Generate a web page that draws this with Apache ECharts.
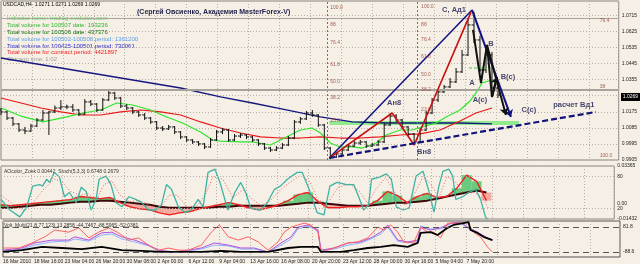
<!DOCTYPE html>
<html><head><meta charset="utf-8">
<script src="https://cdn.jsdelivr.net/npm/echarts/dist/echarts.min.js"></script>
<style>html,body{margin:0;padding:0;background:#f6efe5;}#c{width:640px;height:264px;}</style>
</head><body><div id="c"></div><script>
// ---------- DATA ----------
const dateLabels = ['16 Mar 2010','18 Mar 16:00','23 Mar 04:00','26 Mar 20:00','30 Mar 08:00','2 Apr 00:00','6 Apr 12:00','9 Apr 04:00','13 Apr 16:00','16 Apr 08:00','20 Apr 20:00','23 Apr 12:00','28 Apr 00:00','30 Apr 16:00','5 May 04:00','7 May 20:00'];
const priceTicks = [0.9905,0.9995,1.0085,1.0175,1.0265,1.0355,1.0445,1.0535,1.0625,1.0715];
// [bar, open, close, low, high]
const priceBars = [
[0,1.0185,1.0174,1.0157,1.0196],[3,1.0174,1.0140,1.0129,1.0180],[6,1.0140,1.0107,1.0095,1.0146],[9,1.0107,1.0073,1.0062,1.0112],
[12,1.0073,1.0067,1.0050,1.0090],[15,1.0067,1.0095,1.0062,1.0107],[18,1.0095,1.0129,1.0090,1.0140],[21,1.0129,1.0168,1.0123,1.0185],
[24,1.0168,1.0174,1.0045,1.0180],[27,1.0174,1.0196,1.0168,1.0210],[30,1.0196,1.0202,1.0185,1.0240],[33,1.0202,1.0202,1.0190,1.0215],
[36,1.0202,1.0185,1.0174,1.0218],[39,1.0185,1.0162,1.0151,1.0190],[42,1.0162,1.0230,1.0157,1.0246],[45,1.0230,1.0218,1.0207,1.0241],
[48,1.0218,1.0185,1.0174,1.0224],[51,1.0185,1.0241,1.0180,1.0252],[54,1.0241,1.0280,1.0235,1.0297],[57,1.0280,1.0252,1.0241,1.0286],
[60,1.0252,1.0207,1.0196,1.0258],[63,1.0207,1.0196,1.0185,1.0218],[66,1.0196,1.0174,1.0162,1.0202],[69,1.0174,1.0157,1.0146,1.0180],
[72,1.0157,1.0140,1.0129,1.0168],[75,1.0140,1.0118,1.0107,1.0146],[78,1.0118,1.0084,1.0073,1.0123],[81,1.0084,1.0079,1.0067,1.0095],
[84,1.0079,1.0090,1.0073,1.0101],[87,1.0090,1.0062,1.0050,1.0095],[90,1.0062,1.0034,1.0022,1.0067],[93,1.0034,1.0017,1.0006,1.0039],
[96,1.0017,1.0006,0.9995,1.0022],[99,1.0006,0.9995,0.9983,1.0011],[102,0.9995,0.9978,0.9966,1.0000],[105,0.9978,1.0017,0.9972,1.0028],
[108,1.0017,1.0062,1.0011,1.0073],[111,1.0062,1.0073,1.0050,1.0084],[114,1.0073,1.0017,1.0006,1.0079],[117,1.0017,1.0039,1.0011,1.0050],
[120,1.0039,1.0045,1.0028,1.0056],[123,1.0045,1.0034,1.0022,1.0050],[126,1.0034,1.0017,1.0006,1.0039],[129,1.0017,0.9995,0.9983,1.0022],
[132,0.9995,0.9972,0.9961,1.0000],[135,0.9972,0.9961,0.9950,0.9978],[138,0.9961,0.9972,0.9955,0.9983],[141,0.9972,0.9989,0.9966,1.0000],
[144,0.9989,1.0028,0.9983,1.0039],[147,1.0028,1.0118,1.0022,1.0129],[150,1.0118,1.0135,1.0107,1.0146],[153,1.0135,1.0168,1.0129,1.0180],
[156,1.0168,1.0157,1.0146,1.0185],[159,1.0157,1.0101,1.0090,1.0162],[162,1.0101,0.9972,0.9961,1.0107],[165,0.9972,0.9922,0.9910,0.9978],
[168,0.9922,0.9939,0.9916,0.9950],[171,0.9939,0.9961,0.9933,0.9972],[174,0.9961,0.9983,0.9955,0.9995],[177,0.9983,1.0000,0.9978,1.0011],
[180,1.0000,1.0006,0.9989,1.0017],[183,1.0006,0.9983,0.9972,1.0011],[186,0.9983,0.9989,0.9978,1.0000],[189,0.9989,1.0006,0.9983,1.0017],
[192,1.0006,1.0101,1.0000,1.0112],[195,1.0101,1.0151,1.0095,1.0168],[198,1.0151,1.0129,1.0118,1.0162],[201,1.0129,1.0090,1.0079,1.0135],
[204,1.0090,1.0051,1.0039,1.0095],[207,1.0051,1.0006,0.9995,1.0056],[210,1.0006,1.0073,1.0000,1.0084],[213,1.0073,1.0168,1.0067,1.0180],
[216,1.0168,1.0241,1.0162,1.0252],[219,1.0241,1.0286,1.0230,1.0297],[222,1.0286,1.0314,1.0280,1.0325],[225,1.0314,1.0342,1.0308,1.0364],
[228,1.0342,1.0398,1.0336,1.0420],[231,1.0398,1.0493,1.0392,1.0521],[234,1.0493,1.0661,1.0487,1.0700],[237,1.0661,1.0577,1.0560,1.0733],
[240,1.0577,1.0409,1.0398,1.0600],[243,1.0409,1.0493,1.0392,1.0520],[246,1.0493,1.0308,1.0297,1.0510],[249,1.0308,1.0269,1.0252,1.0340]
];
const maFast = [[0,1.0196],[10,1.0151],[21,1.0118],[33,1.0146],[41,1.0168],[50,1.0185],[58,1.0224],[66,1.0213],[75,1.0185],[83,1.0146],[91,1.0112],[100,1.0062],[106,1.0017],[110,1.0011],[120,1.0006],[126,1.0006],[135,0.9989],[143,1.0034],[150,1.0073],[156,1.0084],[160,1.0056],[165,1.0000],[170,0.9978],[176,0.9978],[181,0.9972],[188,1.0000],[193,1.0045],[200,1.0073],[206,1.0073],[211,1.0090],[218,1.0112],[223,1.0146],[230,1.0185],[235,1.0235],[239,1.0297],[241,1.0336],[246,1.0353],[249,1.0342]];
const maMid = [[0,1.0252],[10,1.0224],[20,1.0196],[30,1.0174],[40,1.0157],[50,1.0157],[60,1.0174],[70,1.0185],[80,1.0174],[90,1.0157],[100,1.0118],[110,1.0084],[120,1.0056],[130,1.0034],[140,1.0028],[150,1.0028],[160,1.0034],[170,1.0028],[180,1.0028],[190,1.0034],[200,1.0045],[210,1.0051],[220,1.0073],[230,1.0123],[238,1.0168],[246,1.0196]];
const maSlow = [[0,1.0476],[30,1.0420],[60,1.0364],[90,1.0308],[110,1.0258],[126,1.0224],[143,1.0185],[160,1.0146],[176,1.0118],[193,1.0112],[210,1.0112],[230,1.0112],[246,1.0107]];
const navyLine = [[164.5,0.9916],[236,1.0745]];
const redZigzag = [[164.5,0.9916],[196,1.0168],[207,0.9989],[235.5,1.0733]];
const navyDashed = [[164.5,0.9916],[298,1.0174]];
const navyArrow = [[236,1.0745],[255.5,1.0146]];
const blackWave = [[236.5,1.0633],[240.5,1.0336],[243.5,1.0549],[246,1.0258],[248.5,1.0370]];
const blackArrow = [[243.5,1.0549],[253,1.0157]];
const greenBand = [[164.5,1.0112],[259.5,1.0112]];
const greenDash = [[234.5,1.0420],[245.5,1.0420]];
const levelLines = [1.0666, 1.0297];
const fibVerticals = [163.5, 208.5];
const annTexts = ['C, Ад1','B','B(c)','A','A(c)','C(c)','расчет Вд1','Ан8','Вн8'];
const annPos = [[227,1.0745],[245.5,1.0554],[254,1.0370],[236,1.0336],[240,1.0241],[264.5,1.0185],[287,1.0213],[197,1.0224],[212,0.9950]];
const fibLevels1 = ['100.0','88','76.4','61.8','50.0','38.2','23.6'];
const fibPrices1 = [1.0756,1.0661,1.0560,1.0437,1.0342,1.0252,1.0123];
const fibLevels2 = ['100.0','88','76.4','61.8','50.0','38.2','23.6'];
const fibPrices2 = [1.0761,1.0661,1.0577,1.0481,1.0381,1.0297,1.0185];
const sideLevels = ['76.4','38','100.0'];
const sidePrices = [1.0683,1.0314,0.9927];
const lastPrice = 1.0269;
// oscillator panel
const stochK = [[0,37],[4.5,17],[9.5,4],[13,23],[16,62],[19.5,65],[21,62],[23,75],[24.5,69],[27,88],[29.5,79],[32,42],[34.5,50],[38,31],[40.5,60],[43,52],[45.5,17],[48,37],[49.5,75],[53,81],[55.5,65],[58,31],[61,23],[64.5,42],[68,37],[71,31],[74.5,17],[78,17],[81,27],[83.5,65],[86,56],[89.5,23],[93,12],[96,17],[99.5,37],[102,23],[104.5,88],[108,94],[110.5,69],[114.5,17],[118,50],[121,69],[123.5,50],[126,21],[131,17],[134.5,31],[138,56],[141,62],[144.5,75],[149.5,88],[152,88],[155.5,56],[158.5,23],[159.5,12],[163,8],[166,62],[169.5,69],[174.5,65],[178,65],[180.5,42],[183,17],[185.5,27],[187,75],[191,79],[194.5,85],[197,75],[199.5,23],[203,17],[206,21],[209.5,81],[213,90],[216,52],[218.5,13],[221,62],[223,90],[226,94],[228,81],[229.5,37],[233,42],[236,50],[239.5,56],[242,37],[244.5,4],[245.5,0]];
const stochD = [[0,45],[6,28],[12,15],[17,35],[22,58],[27,75],[31,70],[35,52],[40,45],[44,48],[48,35],[52,65],[56,72],[60,45],[65,33],[70,35],[75,25],[80,20],[85,45],[89,45],[94,22],[99,25],[103,45],[107,80],[112,75],[117,40],[122,55],[126,40],[131,25],[136,35],[141,55],[146,70],[151,82],[156,70],[160,35],[165,30],[170,60],[176,66],[181,52],[185,30],[189,55],[194,78],[199,50],[204,25],[209,50],[213,80],[217,65],[221,40],[225,80],[229,72],[234,48],[239,50],[243,40],[246,20]];
const aoBarsX = [0,5,10,15,20,25,30,35,40,45,50,55,60,65,70,75,80,85,90,95,100,105,110,115,120,125,130,135,140,145,150,155,160,165,170,175,180,185,190,195,200,205,210,215,220,225,230,235,240,245];
const aoValues = [-0.0014,-0.0023,-0.0014,-0.0005,0.0005,0.0014,0.0023,0.0032,0.0060,0.0051,0.0041,0.0051,0.0005,-0.0032,-0.0051,-0.0060,-0.0088,-0.0106,-0.0088,-0.0078,-0.0051,-0.0032,-0.0014,0.0005,-0.0014,-0.0041,-0.0060,-0.0041,-0.0014,0.0023,0.0078,0.0097,0.0014,-0.0041,-0.0041,-0.0032,-0.0032,-0.0023,0.0023,0.0106,0.0069,0.0005,0.0060,0.0088,0.0051,0.0060,0.0134,0.0254,0.0198,0.0023];
const aoSignal = [-0.0041,-0.0041,-0.0032,-0.0023,-0.0014,-0.0014,-0.0005,0.0005,0.0014,0.0014,0.0023,0.0023,0.0014,0.0005,-0.0005,-0.0014,-0.0032,-0.0041,-0.0041,-0.0041,-0.0041,-0.0041,-0.0032,-0.0032,-0.0023,-0.0023,-0.0023,-0.0023,-0.0023,-0.0014,-0.0005,0.0005,0.0005,-0.0005,-0.0014,-0.0023,-0.0023,-0.0023,-0.0014,-0.0005,0.0005,0.0005,0.0014,0.0023,0.0041,0.0060,0.0078,0.0097,0.0115,0.0097];
const aoMin = -0.01432, aoMax = 0.03365;
// volume panel
const volPink = [[0,25],[8,25],[14.5,39],[21,56],[26,75],[33,69],[38,81],[43,53],[48,69],[53,81],[58,67],[63,47],[68,53],[73,33],[78,19],[83,25],[88,19],[93,19],[99.5,33],[104.5,69],[108.5,89],[113,56],[118,47],[123,56],[128,42],[133,19],[138,42],[141,69],[144.5,83],[148,89],[151,94],[154.5,89],[158,69],[159.5,14],[166,25],[173,39],[178,42],[183,53],[188,83],[191,75],[194.5,89],[198,69],[201,42],[206,39],[209.5,83],[213,69],[216,69],[219.5,53],[223,94],[226,94],[229.5,94],[233,97],[236,69],[239.5,56],[243,28],[245.5,14]];
const volViolet = [[0,19],[9.5,25],[16,39],[24.5,47],[33,47],[36,56],[43,47],[49.5,67],[54.5,69],[59.5,56],[66,47],[73,33],[78,19],[86,14],[93,19],[99.5,25],[106,39],[113,33],[119.5,25],[126,25],[133,14],[139.5,39],[144.5,56],[148,83],[153,89],[158,75],[159.5,19],[166,25],[173,39],[179.5,42],[184.5,53],[189.5,69],[193,89],[198,47],[203,42],[208,47],[209.5,83],[214.5,75],[219.5,81],[224.5,94],[229.5,97],[233,83],[238,69],[243,53],[245.5,47]];
const volBlue = [[0,17],[9.5,22],[16,33],[24.5,42],[33,44],[36,50],[43,44],[49.5,61],[54.5,64],[59.5,50],[66,42],[73,31],[78,17],[86,14],[93,17],[99.5,22],[106,33],[113,31],[119.5,22],[126,22],[133,14],[139.5,33],[144.5,50],[148,78],[153,86],[158,72],[159.5,17],[166,22],[173,33],[179.5,39],[184.5,50],[189.5,64],[193,83],[198,44],[203,39],[208,44],[209.5,86],[214.5,78],[219.5,78],[224.5,92],[229.5,94],[233,81],[238,67],[243,53],[245.5,47]];
const volBlack = [[0,14],[9.5,19],[19.5,28],[29.5,25],[39.5,22],[49.5,28],[59.5,19],[69.5,17],[79.5,14],[89.5,14],[99.5,14],[109.5,17],[119.5,14],[133,14],[143,25],[149.5,28],[158,28],[159.5,14],[169.5,14],[176,19],[183,25],[189.5,28],[196,33],[203,28],[208,39],[209.5,67],[214.5,69],[218,61],[223,81],[226,89],[231,94],[233.5,97],[234.5,75],[238,67],[241,56],[245.5,47]];
const volLevels = [83, 14];
const volLevelLabels = ['81.8', '-88.6'];
const infoLines = ['USDCAD,H4  1.0271 1.0271 1.0269 1.0269','Indicator home: trading-evolution.com','Total volume for 100507 date: 193236','Total volume for 100506 date: 437376','Total volume for 100502-100508 period: 1361200','Total volume for 100425-100501 period: 730061','Total volume for contract period: 4421897','Chicago time: 1:02'];
const titleText = '(Сергей Овсиенко, Академия MasterForex-V)';
const osc1Title = 'AOcolor_Zoek 0.00442  Stoch(5,3,3) 0.6748 0.2679';
const osc2Title = 'Volt_Multi(21,8,77,123) 13.2858 -44.7467 -88.5965 -52.0381';

// ---------- STYLE / LAYOUT ----------
const BG = '#f6efe5', GRIDC = '#b9b1a7', FONT = '"Liberation Sans", Arial, sans-serif';
const xMax = 309.5, perLabel = 15.5;
const infoColors = ['#000','#5fcf5f','#2fb52f','#0a6a0a','#5aa0e8','#2a2ac8','#ee2222','#9a9a9a'];

const chart = echarts.init(document.getElementById('c'), null, {renderer:'canvas'});
const xAxisBase = (i) => ({
  type:'value', gridIndex:i, min:0, max:xMax, interval:perLabel,
  axisLine:{show:false}, axisTick:{show:false},
  splitLine:{show:true, lineStyle:{color:GRIDC, type:[1,2], width:1}},
  axisLabel: i===2 ? {show:true, fontSize:5, color:'#222', fontFamily:FONT, align:'left', margin:2, showMaxLabel:false,
     formatter:(v)=>{const k=Math.round(v/perLabel); return (Math.abs(v-k*perLabel)<1e-6 && k<dateLabels.length)?dateLabels[k]:'';}} : {show:false}
});
const lineS = (data, color, width, extra) => Object.assign({type:'line', xAxisIndex:0, yAxisIndex:0, data, showSymbol:false, symbol:'none',
  lineStyle:{color, width}, silent:true, z:3}, extra||{});
const ann = annTexts.map((t,i)=>({name:t, value:annPos[i]}));
const fib1 = fibLevels1.map((t,i)=>({name:t, value:[164.5, fibPrices1[i]]}));
const fib2 = fibLevels2.map((t,i)=>({name:t, value:[210, fibPrices2[i]]}));
const side = sideLevels.map((t,i)=>({name:t, value:[299.5, sidePrices[i]]}));
const aoData = aoBarsX.map((x,i)=>[x, aoValues[i], aoSignal[i]]);

const option = {
  backgroundColor: BG, animation:false,
  grid:[
    {left:1, top:1, width:619, height:159, show:true, borderColor:'#8a8580', borderWidth:1},
    {left:1, top:166, width:619, height:53, show:true, borderColor:'#8a8580', borderWidth:1},
    {left:1, top:221, width:619, height:36, show:true, borderColor:'#555', borderWidth:1}
  ],
  xAxis:[xAxisBase(0), xAxisBase(1), xAxisBase(2)],
  yAxis:[
    {type:'value', gridIndex:0, position:'right', min:priceTicks[0], max:1.0795, interval:0.009, axisLine:{show:false}, axisTick:{show:false},
     splitLine:{show:true, lineStyle:{color:GRIDC, type:[1,2]}},
     axisLabel:{fontSize:5, color:'#222', fontFamily:FONT, margin:3, showMaxLabel:false,
       formatter:(v)=>{const s=v.toFixed(4); return (priceTicks.map(p=>p.toFixed(4)).includes(s) && s!=='1.0265')?s:'';}}},
    {type:'value', gridIndex:1, position:'right', min:aoMin, max:aoMax, interval:-aoMin, axisLine:{show:false}, axisTick:{show:false}, splitLine:{show:false},
     axisLabel:{fontSize:5, color:'#222', fontFamily:FONT, margin:3,
       formatter:(v)=>{ if(Math.abs(v-aoMin)<1e-7) return '-0.01432'; if(Math.abs(v)<1e-7) return '0.00'; if(Math.abs(v-aoMax)<1e-7) return '0.03365'; return '';}}},
    {type:'value', gridIndex:1, position:'right', min:0, max:100, interval:20, axisLine:{show:false}, axisTick:{show:false}, splitLine:{show:false},
     axisLabel:{fontSize:5, color:'#222', fontFamily:FONT, margin:3, showMinLabel:false, showMaxLabel:false,
       formatter:(v)=> (v===80||v===20)?String(v):''}},
    {type:'value', gridIndex:2, position:'right', min:0, max:100, axisLine:{show:false}, axisTick:{show:false}, splitLine:{show:false}, axisLabel:{show:false}}
  ],
  graphic:[
    ...infoLines.map((t,i)=>({type:'text', left: i===0?3:7, top: i===0?2:9+i*6.8, silent:true,
        style:{text:t, fill:infoColors[i], font:(i===0?'5px ':'6px ')+FONT}})),
    {type:'text', left:137, top:9, silent:true, style:{text:titleText, fill:'#1e1e4a', font:'bold 7px '+FONT, textShadowColor:'#bbb', textShadowOffsetX:1, textShadowOffsetY:1}},
    {type:'text', left:4, top:169, silent:true, style:{text:osc1Title, fill:'#333', font:'5px '+FONT}},
    {type:'text', left:4, top:223, silent:true, style:{text:osc2Title, fill:'#333', font:'5px '+FONT}},
    {type:'rect', right:0, top:93, shape:{width:19, height:8}, style:{fill:'#000'}, silent:true, z:50},
    {type:'text', right:2, top:94.5, silent:true, z:51, style:{text:lastPrice.toFixed(4), fill:'#fff', font:'5px '+FONT}}
  ],
  series:[
    {type:'line', xAxisIndex:0, yAxisIndex:0, data:[], silent:true,
     markLine:{silent:true, symbol:['none','none'], animation:false, label:{show:false},
       data:[
         {xAxis:fibVerticals[0], lineStyle:{color:'#e04040', type:[2,2], width:1}},
         {xAxis:fibVerticals[1], lineStyle:{color:'#e04040', type:[2,2], width:1}},
         {yAxis:levelLines[0], lineStyle:{color:'#a8a39d', type:'solid', width:1}},
         {yAxis:levelLines[1], lineStyle:{color:'#a8a39d', type:'solid', width:2}}
       ]}},
    lineS(greenBand, 'rgba(110,235,110,0.75)', 4, {z:2}),
    {type:'custom', xAxisIndex:0, yAxisIndex:0, data:priceBars, encode:{x:0, y:[1,2,3,4]}, z:4, silent:true,
     renderItem:(params, api)=>{
       const x=api.value(0), o=api.value(1), c=api.value(2), l=api.value(3), h=api.value(4);
       const pL=api.coord([x,l]), pH=api.coord([x,h]), pO=api.coord([x,o]), pC=api.coord([x,c]);
       const st={stroke:'#111', lineWidth:1};
       return {type:'group', children:[
         {type:'line', shape:{x1:pL[0],y1:pL[1],x2:pH[0],y2:pH[1]}, style:st},
         {type:'line', shape:{x1:pO[0]-2.5,y1:pO[1],x2:pO[0],y2:pO[1]}, style:st},
         {type:'line', shape:{x1:pC[0],y1:pC[1],x2:pC[0]+2.5,y2:pC[1]}, style:st}]};
     }},
    lineS(maSlow, '#16167e', 1.3),
    lineS(maMid, '#e81818', 1.2),
    lineS(maFast, '#2ee62e', 1.2),
    lineS(navyLine, '#111180', 1.5, {z:5}),
    lineS(redZigzag, '#c81010', 1.6, {z:5}),
    lineS(navyDashed, '#12127a', 2.2, {z:5, lineStyle:{color:'#12127a', width:2.2, type:[6,3]}}),
    lineS(greenDash, '#3ccc3c', 1, {z:5, lineStyle:{color:'#3ccc3c', width:1, type:[3,2]}}),
    lineS(blackWave, '#111', 2, {z:6}),
    {type:'line', xAxisIndex:0, yAxisIndex:0, data:[], silent:true,
     markLine:{silent:true, animation:false, symbol:['none','arrow'], symbolSize:7, label:{show:false},
       data:[
         [{coord:navyArrow[0], lineStyle:{color:'#111180', width:2, type:'solid'}},{coord:navyArrow[1]}],
         [{coord:blackArrow[0], lineStyle:{color:'#111', width:2, type:'solid'}},{coord:blackArrow[1]}],
         [{coord:blackWave[3], lineStyle:{color:'#111', width:2, type:'solid'}},{coord:blackWave[4]}]
       ]}},
    {type:'scatter', xAxisIndex:0, yAxisIndex:0, data:ann, symbolSize:0, silent:true, z:8,
     label:{show:true, position:'inside', formatter:(p)=>p.name, color:'#16164e', fontFamily:FONT, fontWeight:'bold', fontSize:7.5,
       textShadowColor:'#c9c9c9', textShadowOffsetX:1, textShadowOffsetY:1, textShadowBlur:0}},
    {type:'scatter', xAxisIndex:0, yAxisIndex:0, data:fib1.concat(fib2).concat(side), symbolSize:0, silent:true, z:7,
     label:{show:true, position:'right', distance:1, formatter:(p)=>p.name, color:'#8c3b2e', fontFamily:FONT, fontSize:5}},
    // oscillator panel
    {type:'custom', xAxisIndex:1, yAxisIndex:1, data:aoData, encode:{x:0, y:[1,2]}, z:2, silent:true,
     renderItem:(params, api)=>{
       const x=api.value(0), a=api.value(1), s=api.value(2);
       const p1=api.coord([x-2.5,a]), p2=api.coord([x+2.5,s]);
       return {type:'rect', shape:{x:p1[0], y:Math.min(p1[1],p2[1]), width:p2[0]-p1[0], height:Math.abs(p2[1]-p1[1])},
         style:{fill: a>=s ? 'rgba(60,190,90,0.75)' : 'rgba(245,140,130,0.7)'}};
     }},
    {type:'line', xAxisIndex:1, yAxisIndex:1, data:aoBarsX.map((x,i)=>[x,aoSignal[i]]), symbol:'none', lineStyle:{color:'#3a0808', width:2}, silent:true, z:3},
    {type:'line', xAxisIndex:1, yAxisIndex:1, data:aoBarsX.map((x,i)=>[x,aoValues[i]]), symbol:'none', lineStyle:{color:'#ee2020', width:1.4}, silent:true, z:3},
    {type:'line', xAxisIndex:1, yAxisIndex:2, data:stochD, symbol:'none', lineStyle:{color:'#e86060', width:1, type:[1,2]}, silent:true, z:4},
    {type:'line', xAxisIndex:1, yAxisIndex:2, data:stochK, symbol:'none', lineStyle:{color:'#3db3a3', width:1.3}, silent:true, z:4,
     markLine:{silent:true, symbol:['none','none'], label:{show:false}, lineStyle:{color:GRIDC, type:[1,2], width:1}, data:[{yAxis:20},{yAxis:80}]}},
    // volume panel
    {type:'line', xAxisIndex:2, yAxisIndex:3, data:volBlue, symbol:'none', lineStyle:{color:'#8ab4ff', width:1}, silent:true, z:3},
    {type:'line', xAxisIndex:2, yAxisIndex:3, data:volViolet, symbol:'none', lineStyle:{color:'#b04fe0', width:1}, silent:true, z:3},
    {type:'line', xAxisIndex:2, yAxisIndex:3, data:volPink, symbol:'none', lineStyle:{color:'#ff6060', width:1}, silent:true, z:3},
    {type:'line', xAxisIndex:2, yAxisIndex:3, data:volBlack, symbol:'none', lineStyle:{color:'#000', width:1.8}, silent:true, z:4,
     markLine:{silent:true, symbol:['none','none'], lineStyle:{color:'#555', type:[6,4], width:1},
       data:volLevels.map((v,i)=>({yAxis:v, label:{show:true, position:'end', distance:3, formatter:volLevelLabels[i], fontSize:5, color:'#222', fontFamily:FONT}}))}}
  ]
};
chart.setOption(option);
</script></body></html>
